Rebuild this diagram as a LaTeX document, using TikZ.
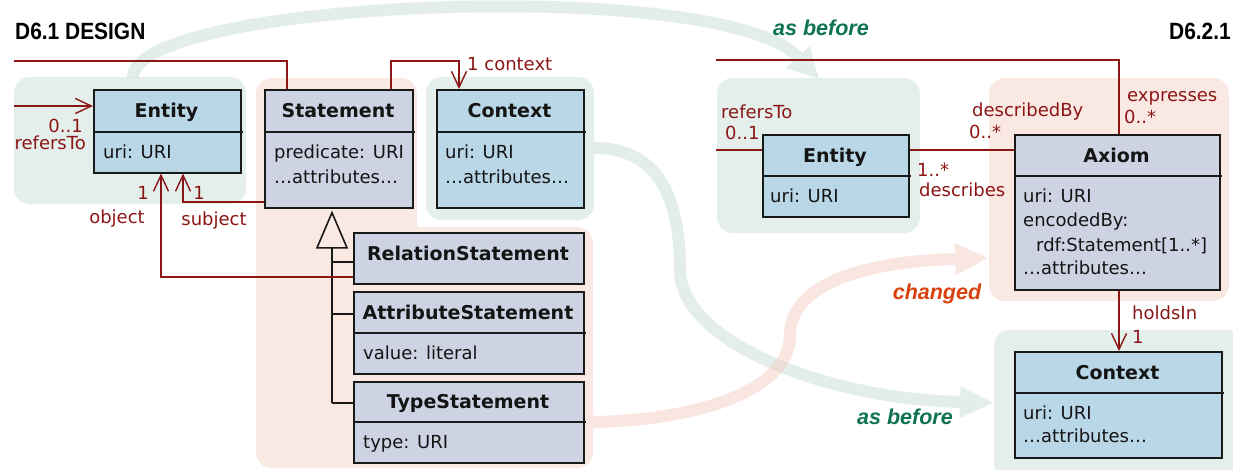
\documentclass[tikz,border=0pt]{standalone}
\usepackage{fontspec}
\setmainfont{DejaVu Sans}
\newfontfamily\headfont{Liberation Sans}
\usetikzlibrary{arrows.meta}
\definecolor{relred}{RGB}{140,22,22}
\definecolor{grpgreen}{RGB}{228,239,235}
\definecolor{grppink}{RGB}{250,232,227}
\definecolor{boxblue}{RGB}{186,215,232}
\definecolor{boxlav}{RGB}{205,211,227}
\definecolor{txtgreen}{RGB}{14,115,82}
\definecolor{txtorange}{RGB}{216,66,14}
\definecolor{bandG}{RGB}{200,222,214}
\definecolor{bandP}{RGB}{244,206,195}
\newcommand\umlclass[8]{%
  \node[umlbox, fill=#7, minimum width=#4-#2, minimum height=#5-#3] (#1) at (#2,#3) {};
  \node[ttl] (#1-t) at ({(#2+#4)/2},{(#3+#6)/2}) {#8};
  \draw[line width=1.6pt, draw=black!90] (#2,#6) -- ({#4+3},#6);
}
\begin{document}
\begin{tikzpicture}[x=1pt,y=-1pt,
  umlbox/.style={draw=black!90, line width=1.6pt, inner sep=0pt, anchor=north west},
  ttl/.style={font=\fontsize{19}{22}\selectfont\bfseries, text=black!92, text height=14pt, text depth=0pt, inner sep=0pt},
  attr/.style={font=\fontsize{18}{21}\selectfont, text=black!92, text height=13pt, text depth=0pt, inner sep=0pt, anchor=west},
  lab/.style={font=\fontsize{18}{21}\selectfont, text=relred, text height=13pt, text depth=0pt, inner sep=0pt},
  rel/.style={draw=relred, line width=1.4pt},
  tip/.style={-{Straight Barb[length=16pt,width=15pt]}},
  band/.style={line width=12pt, opacity=0.5, line cap=butt},
  bandtip/.style={opacity=0.5},
  gen/.style={draw=black!90, line width=1.6pt},
  bandlab/.style={font=\headfont\bfseries\itshape\fontsize{21.5}{24}\selectfont, text height=15.5pt, text depth=0pt, inner sep=0pt},
  headlab/.style={font=\headfont\bfseries\fontsize{23.5}{26}\selectfont, text=black, text height=17pt, text depth=0pt, inner sep=0pt},
]
\path[use as bounding box] (0,0) rectangle (1233,469);
\begin{scope}
\clip (0,0) rectangle (1233,469);
\fill[white] (0,0) rectangle (1233,469);
% groups
\fill[grpgreen, rounded corners=16pt] (14,77) rectangle (246,204);
\fill[grppink, rounded corners=16pt] (256,78) rectangle (417,468);
\fill[grppink, rounded corners=16pt] (256,227) rectangle (593,468);
\fill[grpgreen, rounded corners=16pt] (426,77) rectangle (594,220);
\fill[grpgreen, rounded corners=16pt] (717,78) rectangle (920,233);
\fill[grppink, rounded corners=16pt] (989,78) rectangle (1229,301);
\fill[grpgreen, rounded corners=16pt] (994,330) rectangle (1245,480);
% bands
\draw[band, draw=bandG] (133,78) .. controls (130,0) and (720,-25) .. (798,57);
\fill[bandtip, fill=bandG] (786.4,68) -- (818.7,78.7) -- (809.6,46) -- cycle;
\draw[band, draw=bandG] (594,148) .. controls (660,148) and (680,200) .. (680,270) .. controls (680,340) and (820,398) .. (960,402);
\fill[bandtip, fill=bandG] (959.5,418) -- (993,403) -- (960.5,386) -- cycle;
\draw[band, draw=bandP] (593,422) .. controls (700,420) and (790,390) .. (790,335) .. controls (790,290) and (850,262) .. (955,259);
\fill[bandtip, fill=bandP] (955.5,275) -- (988,258) -- (954.5,243) -- cycle;
% headings
\node[headlab, anchor=west] (h1) at (15,31) {\scalebox{0.89}[1]{D6.1 DESIGN}};
\node[headlab, anchor=east] (h2) at (1231,31) {\scalebox{0.89}[1]{D6.2.1}};
\node[bandlab, text=txtgreen] (ab1) at (821,28) {as before};
\node[bandlab, text=txtgreen] (ab2) at (905,417) {as before};
\node[bandlab, text=txtorange] (chg) at (937,292) {changed};
% classes
\umlclass{entL}{93}{89}{240}{172}{132}{boxblue}{Entity}
\umlclass{stmt}{264}{89}{412}{207}{132}{boxlav}{Statement}
\umlclass{ctxL}{436}{89}{583}{207}{132}{boxblue}{Context}
\node[umlbox, fill=boxlav, minimum width=230, minimum height=51] (relst) at (353,232) {};
\node[ttl] (relst-t) at (468,253) {RelationStatement};
\umlclass{attst}{353}{291}{583}{373}{333}{boxlav}{AttributeStatement}
\umlclass{typst}{353}{381}{583}{462}{422}{boxlav}{TypeStatement}
\umlclass{entR}{762}{134}{908}{216}{176}{boxblue}{Entity}
\umlclass{axiom}{1014}{134}{1219}{289}{176}{boxlav}{Axiom}
\umlclass{ctxR}{1014}{351}{1221}{457}{393}{boxblue}{Context}
% attributes
\node[attr] (a1) at (103,152) {uri: URI};
\node[attr] (a2) at (274,152) {predicate: URI};
\node[attr] (a3) at (274,177) {…attributes…};
\node[attr] (a4) at (445,152) {uri: URI};
\node[attr] (a5) at (445,177) {…attributes…};
\node[attr] (a6) at (363,353) {value: literal};
\node[attr] (a7) at (363,442) {type: URI};
\node[attr] (a8) at (770,196) {uri: URI};
\node[attr] (a9) at (1023,196) {uri: URI};
\node[attr] (a10) at (1023,220) {encodedBy:};
\node[attr] (a11) at (1036,245) {rdf:Statement[1..*]};
\node[attr] (a12) at (1023,268) {…attributes…};
\node[attr] (a13) at (1023,413) {uri: URI};
\node[attr] (a14) at (1023,436) {…attributes…};
% generalization
\coordinate (genx) at (332,403);
\draw[gen, -{Triangle[open, length=38pt, width=32pt]}, shorten >=2pt] (genx) -- (genx |- stmt.south);
\draw[gen] (relst.west |- 0,262) -- (genx |- 0,262);
\draw[gen] (attst.west |- 0,314) -- (genx |- 0,314);
\draw[gen] (typst.west |- genx) -- (genx);
% associations left
\coordinate (objx) at (161,277);
\coordinate (subjx) at (183,202);
\coordinate (refL) at (14,106);
\coordinate (topL) at (14,61);
\coordinate (stA) at (287,61);
\coordinate (ctxA) at (391,61);
\coordinate (ctxB) at (459,61);
\draw[rel, tip] (relst.west |- objx) -- (objx) -- (objx |- entL.south);
\draw[rel, tip] (stmt.west |- subjx) -- (subjx) -- (subjx |- entL.south);
\draw[rel, tip] (refL) -- (refL -| entL.west);
\draw[rel] (stA |- stmt.north) -- (stA) -- (topL);
\draw[rel, tip] (ctxA |- stmt.north) -- (ctxA) -- (ctxB) -- (ctxB |- ctxL.north);
% associations right
\coordinate (topR) at (716,60);
\coordinate (axA) at (1119,60);
\coordinate (refR) at (716,150);
\draw[rel] (topR) -- (axA) -- (axA |- axiom.north);
\draw[rel] (refR) -- (refR -| entR.west);
\draw[rel] (entR.east |- refR) -- (axiom.west |- refR);
\draw[rel, tip] (axiom.south -| axA) -- (ctxR.north -| axA);
% labels
\node[lab, anchor=east] (lb1) at (83,126) {0..1};
\node[lab, anchor=east] (lb2) at (86,143) {refersTo};
\node[lab] (lb3) at (143,193) {1};
\node[lab] (lb4) at (117,217) {object};
\node[lab] (lb5) at (199,193) {1};
\node[lab] (lb6) at (214,219) {subject};
\node[lab, anchor=west] (lb7) at (467,64) {1 context};
\node[lab, anchor=west] (lb8) at (721,112) {refersTo};
\node[lab, anchor=west] (lb9) at (725,133) {0..1};
\node[lab, anchor=west] (lb10) at (972,110) {describedBy};
\node[lab, anchor=west] (lb11) at (969,132) {0..*};
\node[lab, anchor=west] (lb12) at (917,170) {1..*};
\node[lab, anchor=west] (lb13) at (919,190) {describes};
\node[lab, anchor=west] (lb14) at (1127,95) {expresses};
\node[lab, anchor=west] (lb15) at (1124,117) {0..*};
\node[lab, anchor=west] (lb16) at (1132,313) {holdsIn};
\node[lab, anchor=west] (lb17) at (1132,337) {1};
\end{scope}
\end{tikzpicture}
\end{document}
